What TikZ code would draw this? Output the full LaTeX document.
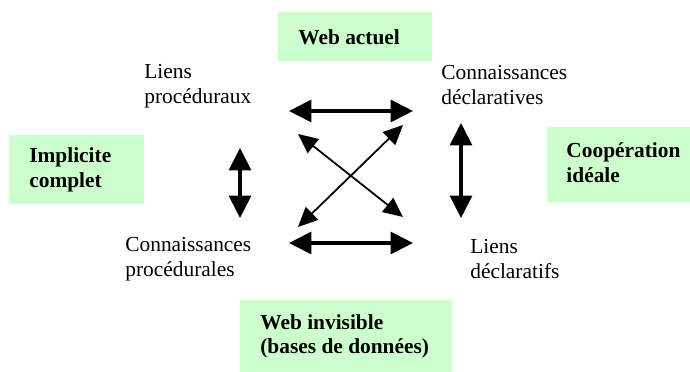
\documentclass[tikz,border=0pt]{standalone}
\usepackage{fontspec}
\setmainfont{Liberation Serif}
\usetikzlibrary{arrows.meta}
\definecolor{boxgreen}{RGB}{204,255,204}
\tikzset{
  lbl/.style={anchor=west,align=left,inner sep=0pt,font=\fontsize{12}{14}\selectfont},
  greenbox/.style={fill=boxgreen,anchor=north west,inner sep=0pt},
  boxtext/.style={lbl,font=\fontsize{12}{14}\selectfont\bfseries},
  fat/.style={line width=1.7pt,{Triangle[length=12.6pt,width=12.4pt]}-{Triangle[length=12.6pt,width=12.4pt]}},
  thin/.style={line width=1pt,{Triangle[length=11pt,width=10pt]}-{Triangle[length=11pt,width=10pt]}}
}
\begin{document}
\begin{tikzpicture}[x=0.561pt,y=-0.561pt]
\useasboundingbox (0,0) rectangle (690,372);
\node[greenbox,minimum width=86.4pt,minimum height=27.5pt] (web) at (278,12) {};
\node[greenbox,minimum width=75.7pt,minimum height=38.7pt] (impl) at (9,135) {};
\node[greenbox,minimum width=80.2pt,minimum height=42.1pt] (coop) at (547,127) {};
\node[greenbox,minimum width=118.9pt,minimum height=40.4pt] (inv) at (240,300) {};
\node[boxtext] (webtxt) at ([xshift=11.2pt]web.west) {Web actuel};
\node[boxtext] (impltxt) at ([xshift=11.2pt]impl.west) {Implicite\\complet};
\node[boxtext] (cooptxt) at ([xshift=10.7pt,yshift=1pt]coop.west) {Coopération\\idéale};
\node[boxtext] (invtxt) at ([xshift=11.2pt]inv.west) {Web invisible\\(bases de données)};
\node[lbl] (lp) at (144,86) {Liens\\procéduraux};
\node[lbl] (cd) at (441,85) {Connaissances\\déclaratives};
\node[lbl] (cp) at (125,259) {Connaissances\\procédurales};
\node[lbl] (ld) at (470,259) {Liens\\déclaratifs};
\coordinate (t1) at (289,111);
\coordinate (t2) at (413,111);
\coordinate (b1) at (289,243);
\coordinate (b2) at (413,243);
\coordinate (l1) at (240,148);
\coordinate (l2) at (240,218);
\coordinate (r1) at (461,123);
\coordinate (r2) at (461,218);
\coordinate (d1) at (298,134);
\coordinate (d2) at (403,217);
\coordinate (d3) at (298,227);
\coordinate (d4) at (403,125);
\draw[fat] (t1) -- (t2);
\draw[fat] (b1) -- (b2);
\draw[fat] (l1) -- (l2);
\draw[fat] (r1) -- (r2);
\draw[thin] (d1) -- (d2);
\draw[thin] (d3) -- (d4);
\end{tikzpicture}
\end{document}
